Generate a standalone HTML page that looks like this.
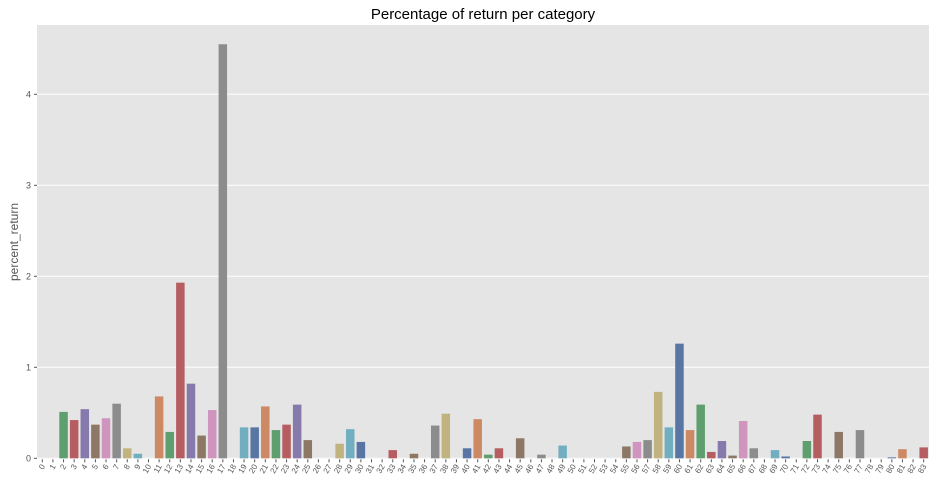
<!DOCTYPE html>
<html><head><meta charset="utf-8"><style>
body{margin:0;background:#fff;font-family:"Liberation Sans","DejaVu Sans",sans-serif;}
</style></head><body>
<svg id="chart" width="937" height="486" xmlns="http://www.w3.org/2000/svg">
<text x="483" y="19" text-anchor="middle" font-size="15" fill="#000">Percentage of return per category</text>
<rect x="37" y="25" width="892" height="434" fill="#e5e5e5"/>
<g id="grid"></g><g id="bars"></g><g id="xticks"></g><g id="yticks"></g>
<text transform="translate(18,242) rotate(-90)" text-anchor="middle" font-size="12" fill="#555">percent_return</text>
</svg>
<script>
const categories = Array.from({length:84},(_,i)=>String(i));
const values = [0,0,0.51,0.42,0.54,0.37,0.44,0.60,0.11,0.05,0,0.68,0.29,1.93,0.82,0.25,0.53,4.55,0,0.34,0.34,0.57,0.31,0.37,0.59,0.20,0,0,0.16,0.32,0.18,0,0,0.09,0,0.05,0,0.36,0.49,0,0.11,0.43,0.04,0.11,0,0.22,0,0.04,0,0.14,0,0,0,0,0,0.13,0.18,0.20,0.73,0.34,1.26,0.31,0.59,0.07,0.19,0.03,0.41,0.11,0,0.09,0.02,0,0.19,0.48,0,0.29,0,0.31,0,0,0.01,0.10,0,0.12];
const yTicks = [0,1,2,3,4];
const palette = ["#5875a4","#cc8963","#5f9e6e","#b55d60","#857aab","#8d7866","#d095bf","#8c8c8c","#c1b37f","#71aec0"];
const X0=37,W=892,Y0=458.3,PX=91;
const step=W/categories.length;
const xc=i=>X0+step*(i+0.5);
const y=v=>Y0-v*PX;
const NS="http://www.w3.org/2000/svg";
function mk(tag,attrs,parent){const e=document.createElementNS(NS,tag);for(const k in attrs)e.setAttribute(k,attrs[k]);document.getElementById(parent).appendChild(e);return e;}
yTicks.forEach(t=>{
  const g=mk('line',{x1:X0,x2:X0+W,y1:y(t),y2:y(t),stroke:'#fff','stroke-width':1},'grid');
  
  
  const tk=mk('line',{x1:X0-3,x2:X0,y1:y(t),y2:y(t),stroke:'#555'},'yticks');
  
  
  const tx=mk('text',{x:X0-6,y:y(t)+3,'text-anchor':'end','font-size':9,fill:'#555'},'yticks');
  tx.textContent=t;
  
  
});
categories.forEach((c,i)=>{
  const v=values[i];
  if(v>0){
    const r=mk('rect',{x:xc(i)-step*0.4,width:step*0.8,y:y(v),height:Y0-y(v),fill:palette[i%10]},'bars');
    
    
  }
  const tk=mk('line',{x1:xc(i),x2:xc(i),y1:Y0+1,y2:Y0+4,stroke:'#555'},'xticks');
  
  
  const tx=mk('text',{transform:`translate(${xc(i)+3},${Y0+8}) rotate(-60)`,'text-anchor':'end','font-size':8,fill:'#555'},'xticks');
  tx.textContent=c;
  
  
});
</script>
</body></html>
